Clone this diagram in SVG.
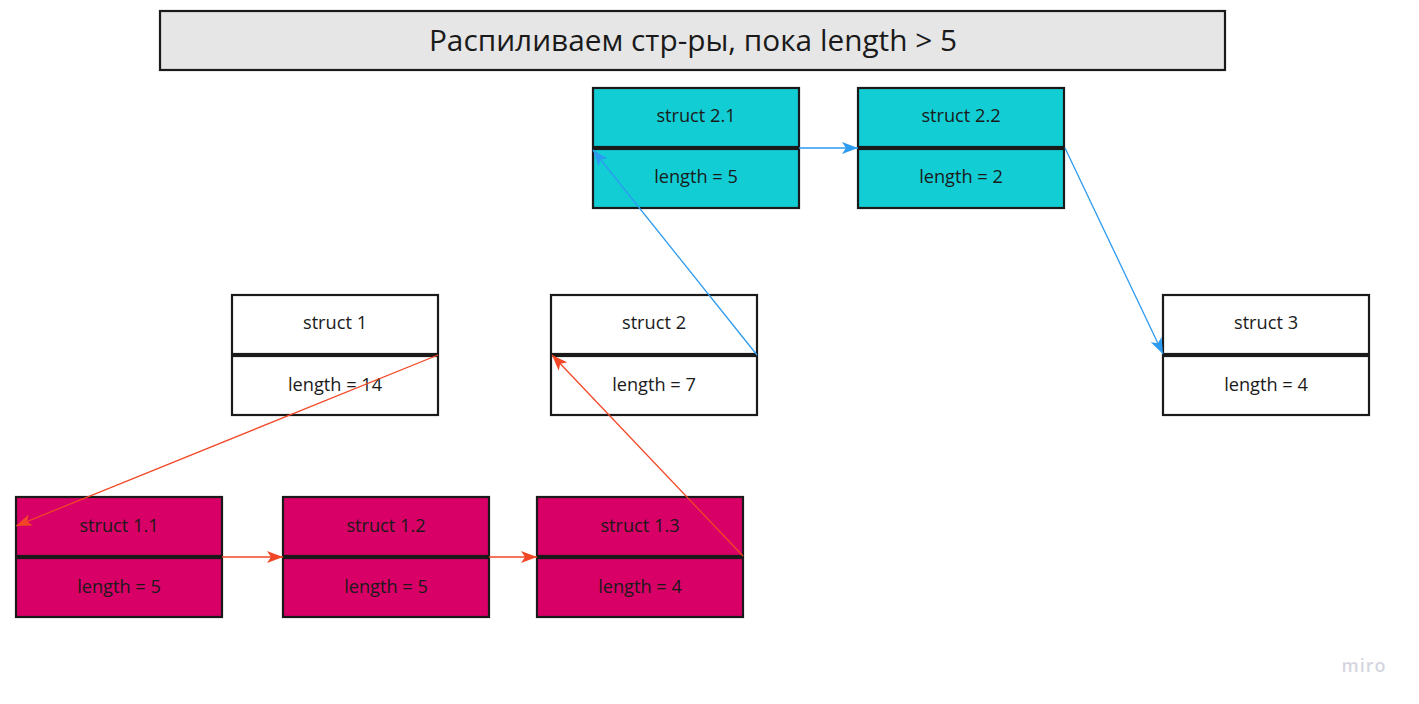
<svg xmlns="http://www.w3.org/2000/svg" width="1419" height="704" viewBox="0 0 1419 704">
<style>
.box{stroke:#1a1a1a;stroke-width:2.2}
.w{fill:#ffffff}.c{fill:#12cdd4}.m{fill:#d80066}
.t{font-family:"Open Sans","Noto Sans","Liberation Sans",sans-serif;font-size:18.2px;fill:#1a1a1a;text-anchor:middle;dominant-baseline:central}
.blue{stroke:#2d9bf0;stroke-width:1.3;fill:none;marker-end:url(#ab)}
.red{stroke:#f24726;stroke-width:1.3;fill:none;marker-end:url(#ar)}
</style>
<defs>
<marker id="ab" markerUnits="userSpaceOnUse" markerWidth="18" markerHeight="12" refX="16" refY="6" orient="auto"><path d="M0,0 L16,6 L0,12 L4,6 Z" fill="#2d9bf0"/></marker>
<marker id="ar" markerUnits="userSpaceOnUse" markerWidth="18" markerHeight="12" refX="16" refY="6" orient="auto"><path d="M0,0 L16,6 L0,12 L4,6 Z" fill="#f24726"/></marker>
</defs>
<rect width="1419" height="704" fill="#ffffff"/>
<g id="title">
<rect class="box" x="160" y="11" width="1065" height="59" fill="#e6e6e6"/>
<text x="693" y="39" class="t" style="font-size:29.8px">Распиливаем стр-ры, пока length &gt; 5</text>
</g>
<g id="struct1">
<rect class="box w" x="232" y="295" width="206" height="59"/><rect class="box w" x="232" y="356" width="206" height="59"/>
<text class="t" x="335" y="322">struct 1</text><text class="t" x="335" y="384">length = 14</text>
</g>
<g id="struct2">
<rect class="box w" x="551" y="295" width="206" height="59"/><rect class="box w" x="551" y="356" width="206" height="59"/>
<text class="t" x="654" y="322">struct 2</text><text class="t" x="654" y="384">length = 7</text>
</g>
<g id="struct3">
<rect class="box w" x="1163" y="295" width="206" height="59"/><rect class="box w" x="1163" y="356" width="206" height="59"/>
<text class="t" x="1266" y="322">struct 3</text><text class="t" x="1266" y="384">length = 4</text>
</g>
<g id="struct2_1">
<rect class="box c" x="593" y="88" width="206" height="59"/><rect class="box c" x="593" y="149" width="206" height="59"/>
<text class="t" x="696" y="115">struct 2.1</text><text class="t" x="696" y="176">length = 5</text>
</g>
<g id="struct2_2">
<rect class="box c" x="858" y="88" width="206" height="59"/><rect class="box c" x="858" y="149" width="206" height="59"/>
<text class="t" x="961" y="115">struct 2.2</text><text class="t" x="961" y="176">length = 2</text>
</g>
<g id="struct1_1">
<rect class="box m" x="16" y="497" width="206" height="59"/><rect class="box m" x="16" y="558" width="206" height="59"/>
<text class="t" x="119" y="525">struct 1.1</text><text class="t" x="119" y="586">length = 5</text>
</g>
<g id="struct1_2">
<rect class="box m" x="283" y="497" width="206" height="59"/><rect class="box m" x="283" y="558" width="206" height="59"/>
<text class="t" x="386" y="525">struct 1.2</text><text class="t" x="386" y="586">length = 5</text>
</g>
<g id="struct1_3">
<rect class="box m" x="537" y="497" width="206" height="59"/><rect class="box m" x="537" y="558" width="206" height="59"/>
<text class="t" x="640" y="525">struct 1.3</text><text class="t" x="640" y="586">length = 4</text>
</g>
<g id="connectors">
<path class="blue" d="M757,355 L593,150"/>
<path class="blue" d="M799,148 L858,148"/>
<path class="blue" d="M1065,148 L1163,354"/>
<path class="red" d="M438,355 L16,526"/>
<path class="red" d="M222,557 L283,557"/>
<path class="red" d="M489,557 L537,557"/>
<path class="red" d="M743,556 L552,355"/>
</g>
<text x="1364" y="665" class="t" style="font-size:18px;font-weight:600;fill:#d5d6e0;letter-spacing:1px">miro</text>
</svg>
